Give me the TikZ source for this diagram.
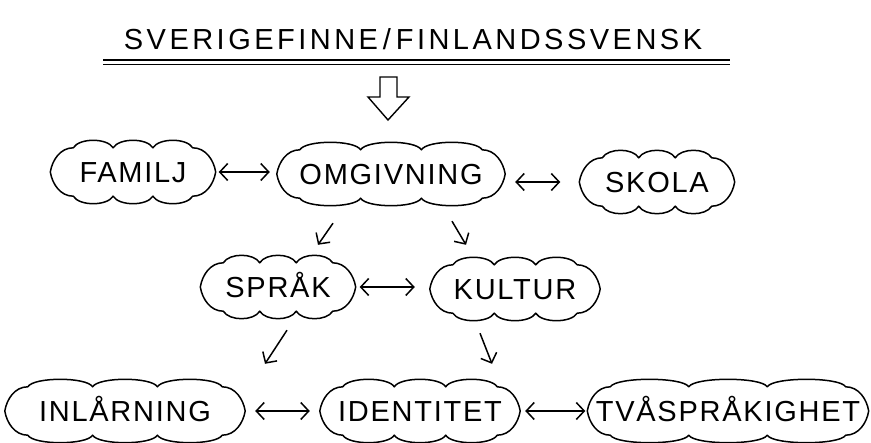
\documentclass[tikz,border=0pt]{standalone}
\usepackage{fontspec}
\newfontfamily\hand{Liberation Sans}[LetterSpace=6]
\usetikzlibrary{arrows.meta,calc}
\newcommand\hw[1]{\makebox[0pt]{\raisebox{-.36em}[0pt][0pt]{#1}}}
\newcommand\cloudify[1]{%
  \draw[cloudline] (#1.north west)
    .. controls +(6,-10) and +(-6,-10) .. ($(#1.north west)!1/3!(#1.north east)$)
    .. controls +(6,-10) and +(-6,-10) .. ($(#1.north west)!2/3!(#1.north east)$)
    .. controls +(6,-10) and +(-6,-10) .. (#1.north east)
    .. controls +(13,0) and +(-2,-12) .. ([xshift=23pt]#1.east)
    .. controls +(-2,12) and +(13,0) .. (#1.south east)
    .. controls +(-6,10) and +(6,10) .. ($(#1.south west)!2/3!(#1.south east)$)
    .. controls +(-6,10) and +(6,10) .. ($(#1.south west)!1/3!(#1.south east)$)
    .. controls +(-6,10) and +(6,10) .. (#1.south west)
    .. controls +(-13,0) and +(2,12) .. ([xshift=-23pt]#1.west)
    .. controls +(2,-12) and +(-13,0) .. (#1.north west) -- cycle;}
\tikzset{
  cl/.style={rectangle, inner sep=0pt, minimum width=#1, minimum height=48pt},
  cloudline/.style={line width=1.5pt, line join=round},
  txt/.style={font=\hand\fontsize{29}{33}\selectfont},
  dbl/.style={{Straight Barb[length=8pt,width=17pt]}-{Straight Barb[length=8pt,width=17pt]}, line width=1.5pt},
  one/.style={-{Straight Barb[length=8pt,width=17pt]}, line width=1.5pt},
}
\begin{document}
\begin{tikzpicture}[x=1pt,y=-1pt,txt]
\useasboundingbox (0,0) rectangle (871,443);
% title
\node (title) at (413,39) {\hw{\addfontfeature{LetterSpace=12}SVERIGEFINNE\,/\,FINLANDSSVENSK}};
\draw[line width=1.2pt] (103,60) -- (730,60);
\draw[line width=1.2pt] (103,64.5) -- (730,64.5);
% hollow arrow
\draw[line width=1.4pt, line join=miter] (380,77) -- (397,77) -- (397,97) -- (409,97) -- (388,120) -- (368,97) -- (380,97) -- cycle;
% clouds
\node[cl=119pt] (familj) at (133,172) {\hw{FAMILJ}};
\node[cl=182pt] (omg) at (391,174) {\hw{OMGIVNING}};
\node[cl=109pt] (skola) at (657,182) {\hw{SKOLA}};
\node[cl=109pt] (sprak) at (278,287) {\hw{SPRÅK}};
\node[cl=124pt] (kultur) at (515,289) {\hw{KULTUR}};
\node[cl=194pt] (inl) at (125,411) {\hw{INLÅRNING}};
\node[cl=154pt] (ident) at (420,411) {\hw{IDENTITET}};
\node[cl=235pt] (tva) at (728,411) {\hw{TVÅSPRÅKIGHET}};
\foreach \n in {familj,omg,skola,sprak,kultur,inl,ident,tva} {\cloudify{\n}}
% connectors
\draw[dbl, shorten <=26pt, shorten >=30pt] (familj.east) -- (familj.east -| omg.west);
\draw[dbl, shorten <=33pt, shorten >=42pt] (omg.east |- skola.west) -- (skola.west);
\draw[one] ([xshift=-58pt,yshift=-25pt]omg.south) -- ([xshift=40pt,yshift=18pt]sprak.north);
\draw[one] ([xshift=61pt,yshift=-23pt]omg.south) -- ([xshift=-49pt,yshift=20pt]kultur.north);
\draw[dbl, shorten <=27pt, shorten >=38pt] (sprak.east) -- (sprak.east -| kultur.west);
\draw[one] ([xshift=9pt,yshift=-19pt]sprak.south) -- ([xshift=140pt,yshift=23pt]inl.north);
\draw[one] ([xshift=-35pt,yshift=-20pt]kultur.south) -- ([xshift=72pt,yshift=23pt]ident.north);
\draw[dbl, shorten <=33pt, shorten >=33pt] (inl.east) -- (ident.west);
\draw[dbl, shorten <=28pt, shorten >=25pt] (ident.east) -- (tva.west);
\end{tikzpicture}
\end{document}
